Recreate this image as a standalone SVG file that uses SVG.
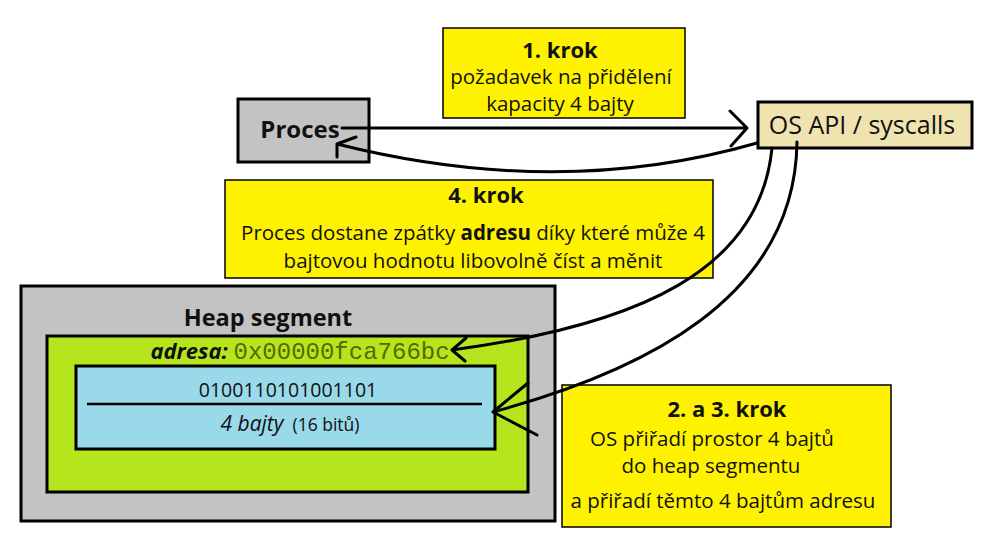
<svg xmlns="http://www.w3.org/2000/svg" width="997" height="542" viewBox="0 0 997 542">
<style>
.t{font-family:"Open Sans","Noto Sans","Liberation Sans",sans-serif;fill:#111;text-anchor:middle}
.b{font-weight:bold}
.n{font-size:20.5px}
.h{font-size:22px;font-weight:bold}
.box{stroke:#000;stroke-width:3}
.note{fill:#fff200;stroke:#000;stroke-width:1.5}
.c{fill:none;stroke:#000;stroke-width:3;stroke-linecap:round;stroke-linejoin:round}
</style>
<rect width="997" height="542" fill="#fff"/>
<g id="heap">
<rect class="box" x="21" y="286" width="534" height="235" fill="#c3c3c3"/>
<text class="t b" x="268" y="326" font-size="23.5">Heap segment</text>
</g>
<g id="adresa">
<rect class="box" x="47" y="336" width="481" height="156" fill="#b5e61d"/>
<text x="300" y="359" text-anchor="middle"><tspan font-family="Open Sans,sans-serif" font-weight="bold" font-style="italic" font-size="22" fill="#111">adresa: </tspan><tspan font-family="Liberation Mono,monospace" font-size="24" fill="#5c6600">0x00000fca766bc</tspan></text>
</g>
<g id="bajty">
<rect class="box" x="76" y="366" width="419" height="83" fill="#99d9ea"/>
<text class="t" x="288" y="397" font-size="19.5">0100110101001101</text>
<line x1="87" y1="404" x2="482" y2="404" stroke="#000" stroke-width="2.5"/>
<text class="t" x="290" y="431"><tspan font-style="italic" font-size="21">4 bajty</tspan><tspan font-size="17.5" dx="9">(16 bitů)</tspan></text>
</g>
<g id="proces">
<rect class="box" x="238" y="99" width="131" height="63" fill="#c3c3c3"/>
<text class="t b" x="300" y="138" font-size="24">Proces</text>
</g>
<g id="os">
<rect class="box" x="758" y="102" width="214" height="46" fill="#efe4b0"/>
<text class="t" x="862" y="134" font-size="25">OS API / syscalls</text>
</g>
<g id="krok1">
<rect class="note" x="443" y="28" width="242" height="90"/>
<text class="t h" x="560" y="58">1. krok</text>
<text class="t n" x="561" y="84">požadavek na přidělení</text>
<text class="t n" x="560" y="111">kapacity 4 bajty</text>
</g>
<g id="krok4">
<rect class="note" x="225" y="180" width="488" height="98"/>
<text class="t h" x="486" y="203">4. krok</text>
<text class="t n" x="473" y="240">Proces dostane zpátky <tspan font-weight="bold">adresu</tspan> díky které může 4</text>
<text class="t n" x="473" y="268">bajtovou hodnotu libovolně číst a měnit</text>
</g>
<g id="krok23">
<rect class="note" x="562" y="385" width="329" height="142"/>
<text class="t h" x="727" y="417" font-size="22.5px">2. a 3. krok</text>
<text class="t n" x="712" y="446">OS přiřadí prostor 4 bajtů</text>
<text class="t n" x="711" y="473">do heap segmentu</text>
<text class="t n" x="723" y="508">a přiřadí těmto 4 bajtům adresu</text>
</g>
<g id="connectors">
<path class="c" d="M342 128 L747 128 M730 111 L747 128 L731 146"/>
<path class="c" d="M757 143 Q560 200 337 144 M356 137 L337 144 L337 157"/>
<path class="c" d="M772 148 C760 270 640 325 452 350 M466 338 L452 350 L465 361"/>
<path class="c" d="M797 142 C795 300 640 372 493 412 M528 383 L493 412 L537 435"/>
</g>
</svg>
